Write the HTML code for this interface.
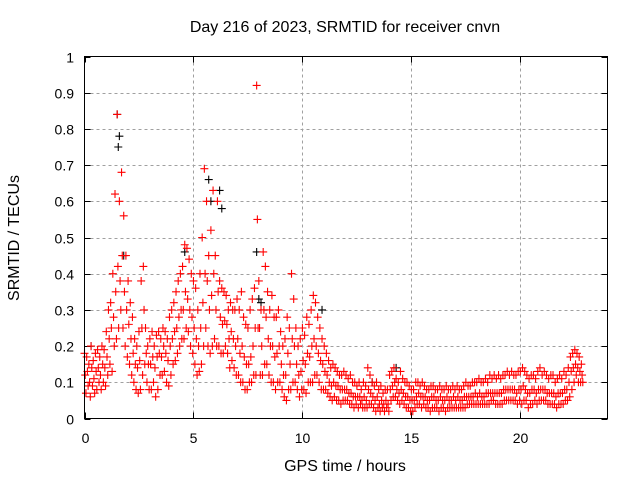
<!DOCTYPE html>
<html><head><meta charset="utf-8"><style>
body{margin:0;background:#fff;width:640px;height:480px;overflow:hidden}
svg text{font-family:"Liberation Sans",sans-serif;font-size:14px;fill:#000}
svg text.big{font-size:16px}
</style></head><body>
<svg id="chart" width="640" height="480" viewBox="0 0 640 480">
<rect width="640" height="480" fill="#fff"/>
<g id="grid"></g>
<g id="ticks"></g>
<g id="pts"></g>
<rect x="84.5" y="56.5" width="523" height="362" fill="none" stroke="#000" stroke-width="1"/>
<text class="big" x="345" y="32" text-anchor="middle">Day 216 of 2023, SRMTID for receiver cnvn</text>
<text class="big" x="345" y="471" text-anchor="middle">GPS time / hours</text>
<text class="big" transform="translate(19,238) rotate(-90)" text-anchor="middle">SRMTID / TECUs</text>
</svg>
<script>
const xTicks=[0,5,10,15,20];
const yTicks=[0,0.1,0.2,0.3,0.4,0.5,0.6,0.7,0.8,0.9,1];
const yTickLabels=["0","0.1","0.2","0.3","0.4","0.5","0.6","0.7","0.8","0.9","1"];
const tStart=0, tStep=0.1;
const hiVals=[.18,.17,.15,.2,.16,.18,.19,.17,.2,.19,.24,.3,.32,.4,.62,.84,.6,.68,.56,.45,.38,.32,.28,.22,.2,.24,.38,.42,.25,.2,.22,.24,.2,.23,.24,.22,.25,.24,.22,.28,.3,.32,.35,.38,.4,.42,.48,.47,.44,.4,.38,.36,.3,.4,.5,.69,.6,.45,.52,.63,.45,.6,.38,.36,.35,.34,.3,.32,.3,.3,.33,.3,.35,.28,.26,.25,.3,.33,.36,.92,.38,.3,.46,.42,.35,.3,.34,.28,.28,.3,.24,.2,.22,.28,.25,.4,.33,.25,.2,.22,.25,.23,.28,.26,.3,.34,.32,.28,.25,.22,.2,.18,.16,.14,.15,.14,.13,.12,.12,.13,.12,.11,.12,.1,.1,.09,.1,.08,.1,.09,.14,.12,.1,.09,.1,.08,.09,.07,.08,.08,.12,.13,.14,.11,.1,.13,.11,.1,.1,.09,.08,.08,.1,.1,.09,.1,.09,.08,.08,.09,.09,.08,.08,.09,.08,.08,.09,.08,.08,.09,.08,.09,.08,.08,.09,.1,.09,.09,.1,.1,.1,.11,.1,.1,.11,.1,.12,.11,.12,.11,.12,.11,.12,.12,.13,.12,.13,.12,.12,.13,.13,.14,.13,.12,.11,.12,.12,.11,.13,.14,.12,.13,.12,.11,.12,.12,.1,.11,.12,.11,.13,.12,.14,.17,.18,.19,.18,.17,.15];
const midVals=[.12,.13,.1,.14,.11,.13,.14,.12,.15,.14,.17,.22,.25,.28,.35,.42,.38,.45,.35,.3,.26,.22,.18,.15,.14,.16,.25,.3,.18,.15,.15,.17,.14,.17,.18,.17,.2,.18,.16,.2,.22,.24,.25,.28,.3,.3,.35,.33,.3,.28,.25,.22,.2,.25,.32,.4,.38,.3,.34,.4,.3,.35,.28,.26,.27,.26,.22,.24,.22,.2,.22,.18,.2,.17,.15,.15,.17,.2,.25,.55,.25,.2,.3,.28,.22,.2,.2,.17,.18,.2,.15,.12,.12,.18,.15,.22,.2,.15,.12,.13,.16,.15,.18,.17,.2,.22,.2,.18,.16,.15,.13,.12,.1,.09,.1,.09,.09,.08,.08,.08,.08,.07,.07,.06,.06,.06,.06,.05,.06,.05,.08,.07,.06,.05,.06,.04,.05,.04,.05,.04,.08,.09,.1,.08,.07,.08,.07,.06,.06,.05,.05,.05,.06,.07,.06,.06,.06,.05,.05,.06,.06,.05,.05,.06,.05,.05,.06,.05,.05,.06,.05,.06,.05,.05,.06,.06,.06,.06,.06,.07,.06,.07,.06,.06,.07,.07,.07,.07,.07,.07,.07,.07,.08,.08,.08,.08,.08,.08,.07,.08,.08,.09,.08,.07,.07,.08,.08,.07,.08,.08,.08,.08,.07,.07,.07,.07,.06,.07,.07,.07,.08,.08,.1,.13,.14,.15,.14,.13,.12];
const loVals=[.07,.09,.06,.09,.07,.08,.1,.08,.1,.09,.12,.15,.13,.2,.22,.25,.3,.25,.2,.17,.15,.12,.1,.08,.07,.08,.12,.15,.1,.08,.08,.1,.06,.08,.12,.12,.13,.1,.09,.12,.15,.16,.18,.2,.22,.22,.25,.24,.2,.18,.15,.12,.13,.15,.2,.25,.2,.18,.2,.22,.2,.2,.18,.18,.2,.18,.14,.16,.14,.12,.12,.1,.1,.08,.08,.1,.1,.12,.12,.25,.12,.12,.15,.15,.12,.1,.1,.08,.1,.1,.08,.06,.05,.08,.08,.1,.1,.08,.06,.08,.08,.07,.1,.1,.1,.12,.12,.1,.08,.08,.08,.07,.06,.05,.06,.05,.05,.04,.05,.05,.05,.04,.04,.03,.04,.03,.04,.03,.03,.03,.04,.04,.03,.02,.03,.02,.03,.02,.03,.02,.05,.06,.06,.05,.04,.05,.04,.03,.03,.02,.02,.03,.04,.04,.03,.04,.03,.03,.02,.03,.03,.03,.02,.03,.03,.02,.03,.03,.03,.03,.03,.03,.03,.03,.03,.04,.04,.04,.04,.04,.04,.04,.04,.04,.04,.04,.05,.05,.04,.04,.04,.04,.05,.05,.05,.05,.05,.05,.04,.05,.04,.05,.05,.03,.04,.04,.05,.04,.05,.05,.05,.05,.04,.04,.04,.04,.03,.04,.04,.04,.05,.05,.06,.08,.1,.12,.1,.1,.1];
const blackT=[0.3,1.5,1.6,1.55,1.8,4.6,5.7,5.8,6.2,6.3,7.9,8.0,8.1,10.9,13.2,14.3];
const blackV=[0.2,0.84,0.78,0.75,0.45,0.46,0.66,0.6,0.63,0.58,0.46,0.33,0.32,0.3,0.1,0.14];
const L=84.5,R=607.5,T=56.5,B=418.5;
function xs(t){return L+(t/24)*(R-L);}
function ys(v){return B-(v/1)*(B-T);}
const NS="http://www.w3.org/2000/svg";
function mk(tag,attrs,parent){const e=document.createElementNS(NS,tag);for(const k in attrs)e.setAttribute(k,attrs[k]);parent.appendChild(e);return e;}
const grid=document.getElementById('grid'),ticks=document.getElementById('ticks'),pts=document.getElementById('pts');
yTicks.forEach((v,i)=>{const y=Math.round(ys(v))+0.5;
 if(i>0&&i<yTicks.length-1){const g=mk('line',{x1:L,x2:R,y1:y,y2:y,stroke:'#a0a0a0','stroke-dasharray':'3,3'},grid);
 
 }
 mk('line',{x1:L,x2:L+6,y1:y,y2:y,stroke:'#000'},ticks);mk('line',{x1:R,x2:R-6,y1:y,y2:y,stroke:'#000'},ticks);
 const t=mk('text',{x:74,y:y+5,'text-anchor':'end'},ticks);t.textContent=yTickLabels[i];
 
 });
xTicks.forEach((v,i)=>{const x=Math.round(xs(v))+0.5;
 if(v>0){const g=mk('line',{x1:x,x2:x,y1:T,y2:B,stroke:'#a0a0a0','stroke-dasharray':'3,3'},grid);
 
 }
 mk('line',{x1:x,x2:x,y1:B,y2:B-6,stroke:'#000'},ticks);mk('line',{x1:x,x2:x,y1:T,y2:T+6,stroke:'#000'},ticks);
 const t=mk('text',{x:x,y:443,'text-anchor':'middle'},ticks);t.textContent=String(v);
 
 });
function plus(t,v,col,name){const x=xs(t),y=ys(v);
 const p=mk('path',{d:`M${x-4},${y}h8M${x},${y-4}v8`,stroke:col,'stroke-width':1.1,fill:'none'},pts);
 
 }
blackT.forEach((t,i)=>plus(t,blackV[i],'#000','black-point'));
[[hiVals,0],[midVals,0.033],[loVals,0.066]].forEach(([arr,off])=>{
 arr.forEach((v,i)=>plus(tStart+i*tStep+off,v,'#ff0000','red-point'));});
</script>
</body></html>
